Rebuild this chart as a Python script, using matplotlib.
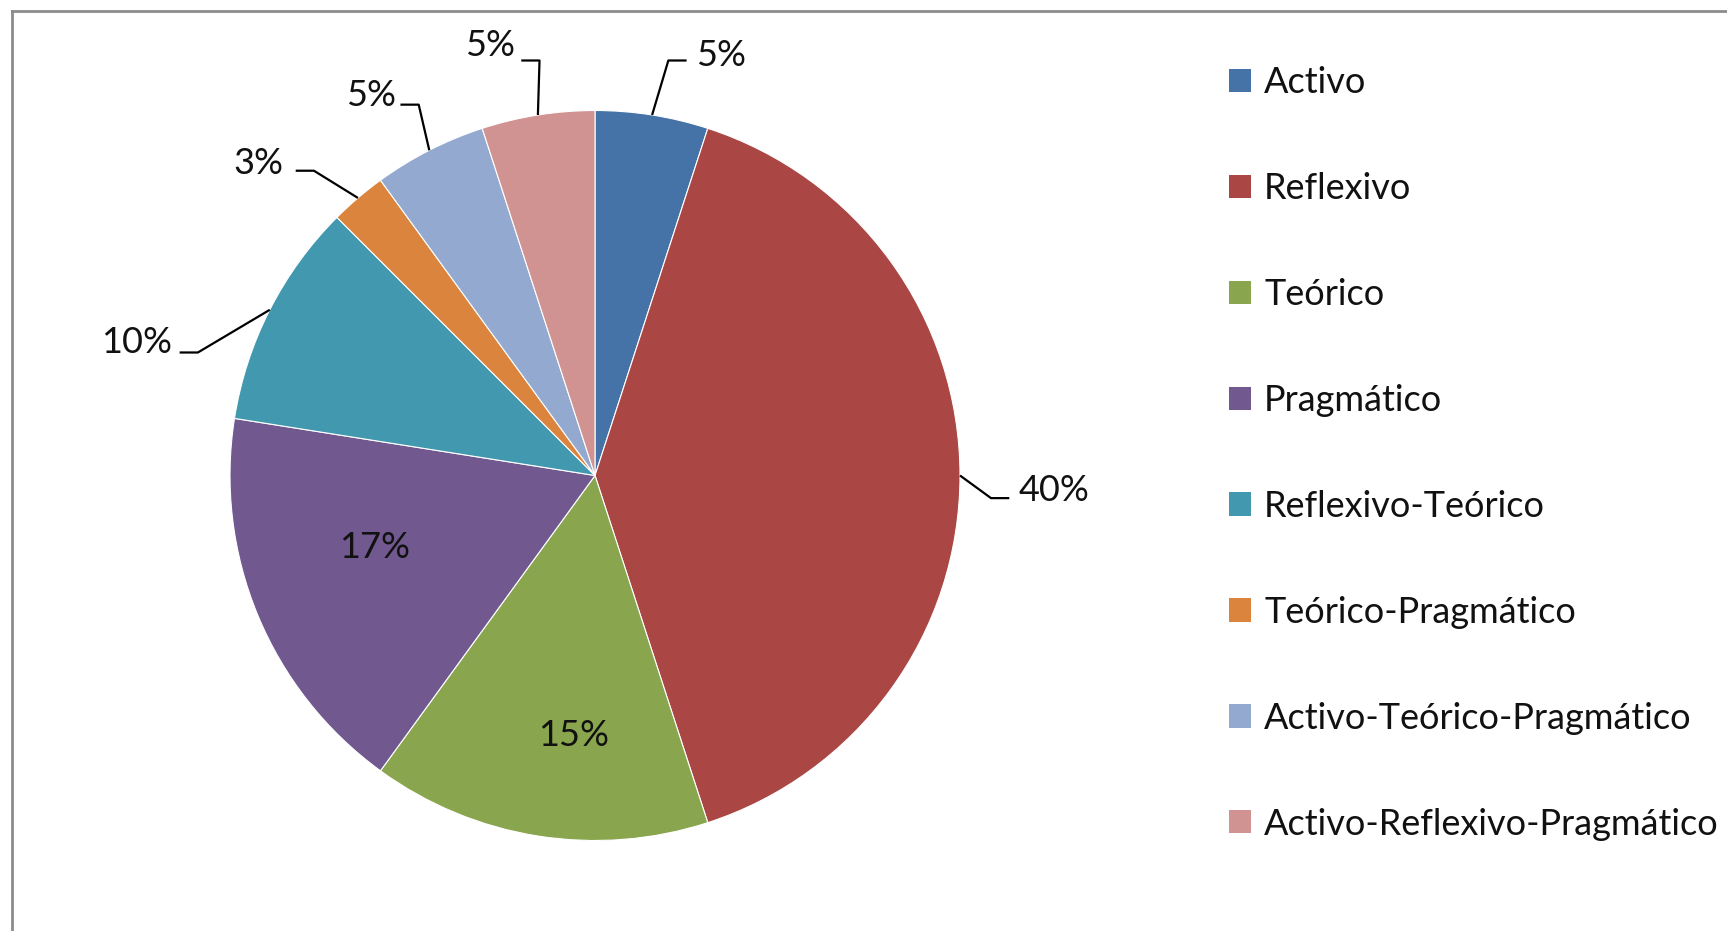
import matplotlib

matplotlib.use("Agg")
import matplotlib.pyplot as plt
import numpy as np
from matplotlib.lines import Line2D
from matplotlib.patches import Patch

plt.rcParams["font.family"] = ["Lato", "DejaVu Sans"]

categories = [
    "Activo",
    "Reflexivo",
    "Teórico",
    "Pragmático",
    "Reflexivo-Teórico",
    "Teórico-Pragmático",
    "Activo-Teórico-Pragmático",
    "Activo-Reflexivo-Pragmático",
]
counts = [2, 16, 6, 7, 4, 1, 2, 2]
labels = ["5%", "40%", "15%", "17%", "10%", "3%", "5%", "5%"]
colors = ["#4572A7", "#AA4643", "#89A54E", "#71588F",
          "#4198AF", "#DB843D", "#93A9CF", "#D19392"]

# label placement (data units, pie radius = 1); elbow=None -> label inside
label_pos = [(0.345, 1.150), (1.258, -0.040), (-0.058, -0.713), (-0.604, -0.196),
             (-1.256, 0.364), (-0.921, 0.856), (-0.614, 1.040), (-0.288, 1.177)]
elbows = [(0.201, 1.137), (1.085, -0.062), None, None,
          (-1.088, 0.337), (-0.770, 0.835), (-0.483, 1.016), (-0.152, 1.137)]
SEG = 0.05

W, H = 1727, 931
CX, CY, R = 595, 455.5, 365  # pie centre from bottom-left, radius in px

fig = plt.figure(figsize=(W / 100, H / 100), dpi=100)
ax = fig.add_axes([0, 0, 1, 1])

wedges, _ = ax.pie(counts, colors=colors, startangle=90, counterclock=False,
                   radius=1, center=(0, 0), frame=True,
                   wedgeprops=dict(edgecolor="white", linewidth=0.8))
ax.set_xlim(-CX / R, (W - CX) / R)
ax.set_ylim(-CY / R, (H - CY) / R)
ax.axis("off")

fs = 26
for w, lab, (tx, ty), el in zip(wedges, labels, label_pos, elbows):
    ax.text(tx, ty, lab, ha="center", va="center", fontsize=fs, color="#111111")
    if el is None:
        continue
    mid = np.deg2rad((w.theta1 + w.theta2) / 2)
    px, py = np.cos(mid), np.sin(mid)
    side = 1 if tx > el[0] else -1
    ax.plot([px, el[0], el[0] + side * SEG], [py, el[1], el[1]],
            color="black", lw=1.6, solid_capstyle="butt")

handles = [Patch(facecolor=c, edgecolor="none") for c in colors]
fig.legend(handles, categories, loc="upper left",
           bbox_to_anchor=(1229 / W, 1 - 66 / H), frameon=False,
           fontsize=fs, handlelength=0.61, handleheight=0.61,
           handletextpad=0.36, labelspacing=2.02, borderpad=0, borderaxespad=0,
           labelcolor="#111111")

# outer chart frame (only left and top edges are visible)
fig.add_artist(Line2D([12 / W, 12 / W], [0, 1 - 11 / H], transform=fig.transFigure,
                      color="#8c8c8c", lw=2))
fig.add_artist(Line2D([12 / W, 1], [1 - 11 / H, 1 - 11 / H], transform=fig.transFigure,
                      color="#8c8c8c", lw=2))

fig.savefig("out.png", dpi=100, facecolor="white")
